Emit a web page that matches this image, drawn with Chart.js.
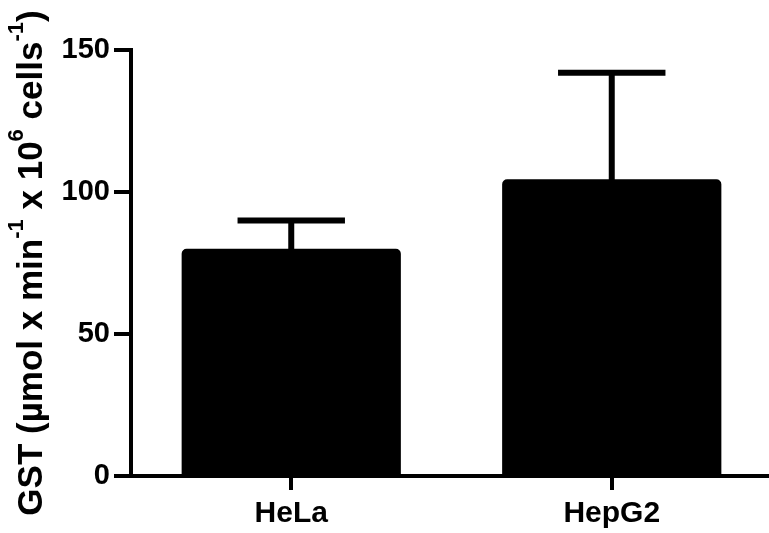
<!DOCTYPE html>
<html>
<head>
<meta charset="utf-8">
<script src="https://cdn.jsdelivr.net/npm/chart.js@4"></script>
<style>
  html, body { margin: 0; padding: 0; background: #fff; overflow: hidden; }
  #wrap { width: 772px; height: 533px; position: relative; }
</style>
</head>
<body>
<div id="wrap"><canvas id="c"></canvas></div>
<script>
// Cell lines and GST activity (mean with upper SD bar)
const categories = ['HeLa', 'HepG2'];
const gstMean = [80, 104.5];
const gstSD = [10, 37.5];
const yTicks = [0, 50, 100, 150];

const FONT = '"Liberation Sans", Arial, Helvetica, sans-serif';

// Upper-only error bars, drawn through the chart's own scales
const errorBars = {
  id: 'errorBars',
  afterDatasetsDraw(chart) {
    const meta = chart.getDatasetMeta(0);
    const y = chart.scales.y;
    const ctx = chart.ctx;
    ctx.save();
    ctx.strokeStyle = '#000';
    ctx.lineWidth = 6;
    ctx.lineCap = 'butt';
    meta.data.forEach((bar, i) => {
      const top = y.getPixelForValue(gstMean[i] + gstSD[i]);
      const base = y.getPixelForValue(gstMean[i]);
      const half = bar.width * 0.245;
      ctx.beginPath();
      ctx.moveTo(bar.x, base + 1);
      ctx.lineTo(bar.x, top);
      ctx.stroke();
      ctx.beginPath();
      ctx.moveTo(bar.x - half, top);
      ctx.lineTo(bar.x + half, top);
      ctx.stroke();
    });
    ctx.restore();
  }
};

// Rotated y-axis title with superscripts
const yTitle = {
  id: 'yTitle',
  afterDraw(chart) {
    const ctx = chart.ctx;
    const area = chart.chartArea;
    const big = 35, small = 22, raise = 19;
    const parts = [
      ['GST (\u00b5mol x min', false],
      ['-1', true],
      [' x 10', false],
      ['6', true],
      [' cells', false],
      ['-1', true],
      [')', false]
    ];
    ctx.save();
    let total = 0;
    const widths = parts.map(([t, sup]) => {
      ctx.font = `bold ${sup ? small : big}px ${FONT}`;
      const w = ctx.measureText(t).width;
      total += w;
      return w;
    });
    const cy = (area.top + area.bottom) / 2;
    ctx.translate(42, cy);
    ctx.rotate(-Math.PI / 2);
    ctx.fillStyle = '#000';
    ctx.textBaseline = 'alphabetic';
    ctx.textAlign = 'left';
    let x = -total / 2;
    parts.forEach(([t, sup], i) => {
      ctx.font = `bold ${sup ? small : big}px ${FONT}`;
      ctx.fillText(t, x, sup ? -raise : 0);
      x += widths[i];
    });
    ctx.restore();
  }
};

new Chart(document.getElementById('c'), {
  type: 'bar',
  data: {
    labels: categories,
    datasets: [{
      data: gstMean,
      backgroundColor: '#000',
      borderWidth: 0,
      borderRadius: { topLeft: 5, topRight: 5, bottomLeft: 0, bottomRight: 0 },
      borderSkipped: 'start',
      categoryPercentage: 1,
      barPercentage: 0.684
    }]
  },
  options: {
    responsive: true,
    maintainAspectRatio: false,
    animation: false,
    devicePixelRatio: 1,
    layout: { padding: { top: 50, left: 0, right: 0, bottom: 0 } },
    plugins: { legend: { display: false }, tooltip: { enabled: false } },
    scales: {
      x: {
        offset: true,
        grid: { offset: false, drawOnChartArea: false, drawTicks: true, tickLength: 14, lineWidth: 4, color: '#000' },
        border: { display: true, width: 4, color: '#000' },
        ticks: { color: '#000', padding: 6, font: { family: FONT, size: 30, weight: 'bold' } },
        afterFit(scale) { scale.height = 57; }
      },
      y: {
        min: 0,
        max: 150,
        afterBuildTicks(scale) { scale.ticks = yTicks.map(v => ({ value: v })); },
        grid: { drawOnChartArea: false, drawTicks: true, tickLength: 17, lineWidth: 4, color: '#000' },
        border: { display: true, width: 4, color: '#000' },
        ticks: { color: '#000', padding: 4, font: { family: FONT, size: 29, weight: 'bold' } },
        afterFit(scale) { scale.width = 131; }
      }
    }
  },
  plugins: [errorBars, yTitle]
});
</script>
</body>
</html>
